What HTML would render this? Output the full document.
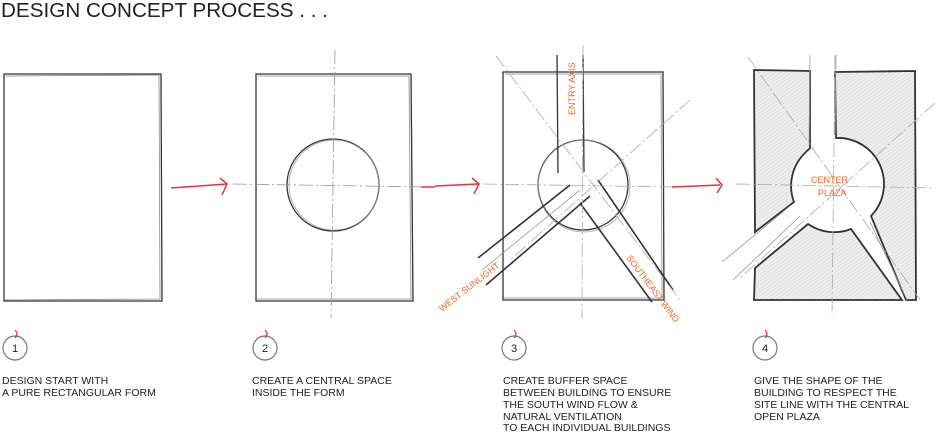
<!DOCTYPE html>
<html><head><meta charset="utf-8"><style>
html,body{margin:0;padding:0;background:#fff;width:935px;height:432px;overflow:hidden}
text{font-family:"Liberation Sans Narrow","Liberation Sans",sans-serif}
.t{font-size:10.5px;fill:#222}
.o{fill:#f26522;font-size:9px}
</style></head><body>
<svg width="935" height="432" viewBox="0 0 935 432" xmlns="http://www.w3.org/2000/svg">
<text x="1" y="17" font-size="20" fill="#222" textLength="327" lengthAdjust="spacingAndGlyphs">DESIGN CONCEPT PROCESS . . .</text>

<g fill="none" stroke="#333" stroke-width="1.3">
<path d="M4 74 L161 74 L162 301 L4 301 Z"/>
<path d="M6 76 L159 75 L160 299 L5 300" stroke="#888" stroke-width="0.8"/>
<path d="M256 74 L411 74 L413 301 L256 301 Z"/>
<path d="M258 76 L409 76 L411 299 L257 299" stroke="#888" stroke-width="0.8"/>
<circle cx="333" cy="185" r="46"/>
<circle cx="334" cy="185" r="45" stroke="#999" stroke-width="0.7"/>
</g>
<g stroke="#999" stroke-width="0.8" stroke-dasharray="14 3 2 3">
<line x1="335" y1="50" x2="331" y2="318"/>
<line x1="233" y1="184" x2="430" y2="187"/>
</g>

<g fill="none" stroke="#333" stroke-width="1.3">
<path d="M503 72 L663 72 L664 300 L503 300 Z"/>
<path d="M505 74 L661 74 L662 298 L504 298" stroke="#888" stroke-width="0.8"/>
<circle cx="583" cy="185" r="45"/>
<circle cx="584" cy="186" r="46" stroke="#999" stroke-width="0.7"/>
<line x1="557" y1="55" x2="558" y2="173"/>
<line x1="583" y1="55" x2="584" y2="172"/>
<line x1="570" y1="185" x2="478" y2="258" stroke-width="1.6"/>
<line x1="590" y1="196" x2="486" y2="285" stroke-width="1.6"/>
<line x1="580" y1="190" x2="482" y2="270" stroke="#888" stroke-width="0.7"/>
<line x1="598" y1="180" x2="673" y2="290" stroke-width="1.6"/>
<line x1="580" y1="203" x2="652" y2="302" stroke-width="1.6"/>
</g>
<g stroke="#aaa" stroke-width="0.8" stroke-dasharray="14 3 2 3">
<line x1="496" y1="56" x2="680" y2="300"/>
<line x1="690" y1="100" x2="510" y2="260"/>
<line x1="583" y1="45" x2="582" y2="318"/>
<line x1="483" y1="184" x2="672" y2="187"/>
</g>
<text class="o" transform="translate(575,115) rotate(-90)">ENTRY AXIS</text>
<text class="o" transform="translate(442,312) rotate(-38)">WEST SUNLIGHT</text>
<text class="o" transform="translate(626,258) rotate(53)">SOUTHEAST WIND</text>

<defs><pattern id="h" width="3" height="3" patternUnits="userSpaceOnUse" patternTransform="rotate(-35)"><rect width="3" height="3" fill="#eee"/><line x1="0" y1="0" x2="3" y2="0" stroke="#d4d4d4" stroke-width="1"/></pattern></defs>
<g fill="url(#h)" stroke="#333" stroke-width="1.8">
<path d="M754 70 L810 71 L810 148 L806 152 A46 46 0 0 0 794 202 L755 232 Z"/>
<path d="M835 72 L915 71 L916 300 L906 300 L871 216 A46 46 0 0 0 836 138 Z"/>
<path d="M808 224 A46 46 0 0 0 851 229 L902 300 L754 300 L755 268 Z"/>
</g>
<g fill="none" stroke="#999" stroke-width="0.8">
<line x1="790" y1="206" x2="722" y2="262"/>
<line x1="800" y1="216" x2="733" y2="280"/>
<line x1="870" y1="222" x2="908" y2="302"/>
<line x1="810" y1="55" x2="809" y2="145"/>
<line x1="836" y1="55" x2="835" y2="135"/>
</g>
<g stroke="#aaa" stroke-width="0.8" stroke-dasharray="14 3 2 3">
<line x1="748" y1="57" x2="920" y2="300"/>
<line x1="935" y1="103" x2="740" y2="278"/>
<line x1="835" y1="55" x2="832" y2="315"/>
<line x1="736" y1="184" x2="933" y2="188"/>
</g>
<text class="o" x="811" y="183" font-size="10">CENTER</text>
<text class="o" x="818" y="196" font-size="10">PLAZA</text>

<g fill="none" stroke="#e8323a" stroke-width="1.5">
<path d="M171 188 L227 184 M220 178 L227 184 L222 195"/>
<path d="M421 187 L435 187"/>
<path d="M435 186 L478 184 M472 178 L479 184 L474 194"/>
<path d="M672 187 L720 185 M716 178 L722 185 L717 193"/>
</g>

<g fill="none" stroke="#777" stroke-width="1.2">
<circle cx="15" cy="348" r="12"/><circle cx="265" cy="348" r="12"/><circle cx="514" cy="348" r="12"/><circle cx="765" cy="348" r="12"/>
</g>
<g fill="none" stroke="#e8323a" stroke-width="1.2">
<path d="M15 330 Q19 334 15 338"/><path d="M265 330 Q269 334 265 338"/><path d="M514 330 Q518 334 514 338"/><path d="M765 330 Q769 334 765 338"/>
</g>
<g font-size="11" fill="#222" text-anchor="middle">
<text x="15" y="352">1</text><text x="265" y="352">2</text><text x="514" y="352">3</text><text x="765" y="352">4</text>
</g>

<text class="t" x="2" y="384">DESIGN START WITH</text>
<text class="t" x="2" y="396">A PURE RECTANGULAR FORM</text>
<text class="t" x="252" y="384">CREATE A CENTRAL SPACE</text>
<text class="t" x="252" y="396">INSIDE THE FORM</text>
<text class="t" x="503" y="384">CREATE BUFFER SPACE</text>
<text class="t" x="503" y="396">BETWEEN BUILDING TO ENSURE</text>
<text class="t" x="503" y="408">THE SOUTH WIND FLOW &amp;</text>
<text class="t" x="503" y="420">NATURAL VENTILATION</text>
<text class="t" x="503" y="431">TO EACH INDIVIDUAL BUILDINGS</text>
<text class="t" x="754" y="384">GIVE THE SHAPE OF THE</text>
<text class="t" x="754" y="396">BUILDING TO RESPECT THE</text>
<text class="t" x="754" y="408">SITE LINE WITH THE CENTRAL</text>
<text class="t" x="754" y="420">OPEN PLAZA</text>
</svg>
</body></html>
